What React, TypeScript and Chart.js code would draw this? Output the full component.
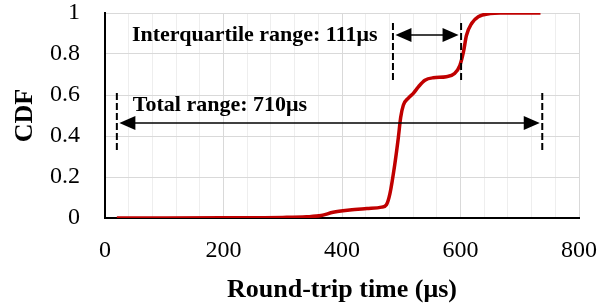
import React, { useEffect, useRef } from "react";
import { Chart, registerables } from "chart.js";

Chart.register(...registerables);

// Round-trip time (µs) and CDF values
const rttValues = [20, 100, 200, 300, 340, 365, 385, 413, 442, 467, 475, 481, 489, 495, 499, 503.5, 512, 520, 529, 540, 554, 576, 590, 599, 605, 610, 619, 630, 650, 667, 735];
const cdfValues = [0, 0, 0.001, 0.003, 0.006, 0.012, 0.028, 0.039, 0.046, 0.053, 0.065, 0.12, 0.26, 0.39, 0.49, 0.55, 0.585, 0.607, 0.64, 0.672, 0.684, 0.689, 0.705, 0.745, 0.81, 0.89, 0.95, 0.982, 0.997, 1, 1];

const xTickLabels = ["0", "200", "400", "600", "800"];
const yTickLabels = ["0", "0.2", "0.4", "0.6", "0.8", "1"];

// Annotation markers (data units)
const iqrMarkers = [486, 601];
const iqrMarkerSpan = [0.66, 0.951];
const iqrArrowLevel = 0.893;
const iqrLabel = "Interquartile range: 111μs";
const iqrLabelAt = [45.5, 0.865];

const totalMarkers = [20, 738];
const totalMarkerSpan = [0.317, 0.61];
const totalArrowLevel = 0.463;
const totalLabel = "Total range: 710μs";
const totalLabelAt = [47, 0.522];

const SERIF = '"Liberation Serif", "Times New Roman", serif';

function drawArrowHead(ctx: CanvasRenderingContext2D, tipX: number, y: number, dir: number) {
  const len = 16;
  const half = 7;
  ctx.beginPath();
  ctx.moveTo(tipX, y);
  ctx.lineTo(tipX - dir * len, y - half);
  ctx.lineTo(tipX - dir * len, y + half);
  ctx.closePath();
  ctx.fill();
}

const annotationPlugin = {
  id: "rangeAnnotations",
  afterDatasetsDraw(chart: any) {
    const { ctx, scales } = chart;
    const xs = scales.x;
    const ys = scales.y;
    const groups = [
      { m: iqrMarkers, span: iqrMarkerSpan, lvl: iqrArrowLevel, label: iqrLabel, at: iqrLabelAt },
      { m: totalMarkers, span: totalMarkerSpan, lvl: totalArrowLevel, label: totalLabel, at: totalLabelAt },
    ];
    ctx.save();
    for (const g of groups) {
      const x1 = xs.getPixelForValue(g.m[0]);
      const x2 = xs.getPixelForValue(g.m[1]);
      const yTop = ys.getPixelForValue(g.span[1]);
      const yBot = ys.getPixelForValue(g.span[0]);
      ctx.strokeStyle = "#000";
      ctx.lineWidth = 2;
      ctx.setLineDash([7, 3]);
      for (const px of [x1, x2]) {
        ctx.beginPath();
        ctx.moveTo(px, yTop);
        ctx.lineTo(px, yBot);
        ctx.stroke();
      }
      ctx.setLineDash([]);
      const ay = ys.getPixelForValue(g.lvl);
      const l = x1 + 2.5;
      const r = x2 - 2.5;
      ctx.lineWidth = 1.5;
      ctx.beginPath();
      ctx.moveTo(l + 10, ay);
      ctx.lineTo(r - 10, ay);
      ctx.stroke();
      ctx.fillStyle = "#000";
      drawArrowHead(ctx, l, ay, -1);
      drawArrowHead(ctx, r, ay, 1);
      ctx.font = `bold 22px ${SERIF}`;
      ctx.textAlign = "left";
      ctx.textBaseline = "alphabetic";
      ctx.fillText(g.label, xs.getPixelForValue(g.at[0]), ys.getPixelForValue(g.at[1]));
    }
    ctx.restore();
  },
};

export default function App() {
  const canvasRef = useRef<HTMLCanvasElement | null>(null);

  useEffect(() => {
    if (!canvasRef.current) return;
    const points = rttValues.map((v, i) => ({ x: v, y: cdfValues[i] }));
    const chart = new Chart(canvasRef.current, {
      type: "line",
      data: {
        datasets: [
          {
            data: points,
            borderColor: "#C00000",
            borderWidth: 3.5,
            pointRadius: 0,
            fill: false,
            cubicInterpolationMode: "monotone",
          },
        ],
      },
      options: {
        animation: false,
        responsive: true,
        maintainAspectRatio: false,
        layout: { padding: { top: 13, right: 24, bottom: 0, left: 0 } },
        plugins: { legend: { display: false }, tooltip: { enabled: false } },
        scales: {
          x: {
            type: "linear",
            min: 0,
            max: 800,
            afterFit: (s: any) => {
              s.height = 88;
              s.paddingLeft = 0;
              s.paddingRight = 0;
            },
            ticks: {
              stepSize: 40,
              autoSkip: false,
              maxRotation: 0,
              padding: 21,
              color: "#000",
              font: { family: SERIF, size: 24, lineHeight: 1 },
              callback: (v: any) => {
                const idx = xTickLabels.indexOf(String(v));
                return idx >= 0 && Number(v) % 200 === 0 ? xTickLabels[idx] : "";
              },
            },
            grid: {
              drawTicks: false,
              lineWidth: 1,
              color: (c: any) => (c.tick && c.tick.value % 200 === 0 ? "#d9d9d9" : "#eeeeee"),
            },
            border: { display: true, color: "#000", width: 2 },
            title: {
              display: true,
              text: "Round-trip time (μs)",
              color: "#000",
              font: { family: SERIF, size: 26, weight: "bold", lineHeight: 1 },
              padding: { top: 0, bottom: 3 },
            },
          },
          y: {
            type: "linear",
            min: 0,
            max: 1,
            afterFit: (s: any) => {
              s.width = 105;
              s.paddingTop = 0;
              s.paddingBottom = 0;
            },
            ticks: {
              stepSize: 0.2,
              padding: 25,
              color: "#000",
              font: { family: SERIF, size: 24, lineHeight: 1 },
              callback: (v: any) => {
                const i = Math.round(Number(v) / 0.2);
                return yTickLabels[i] ?? "";
              },
            },
            grid: { drawTicks: false, color: "#d9d9d9", lineWidth: 1 },
            border: { display: true, color: "#000", width: 2 },
            title: {
              display: true,
              text: "CDF",
              color: "#000",
              font: { family: SERIF, size: 26, weight: "bold", lineHeight: 1 },
              padding: { top: 12, bottom: 0 },
            },
          },
        },
      },
      plugins: [annotationPlugin],
    } as any);
    return () => chart.destroy();
  }, []);

  return (
    <div style={{ position: "fixed", left: 0, top: 0, width: 603, height: 306, background: "#fff" }}>
      <canvas ref={canvasRef} />
    </div>
  );
}
